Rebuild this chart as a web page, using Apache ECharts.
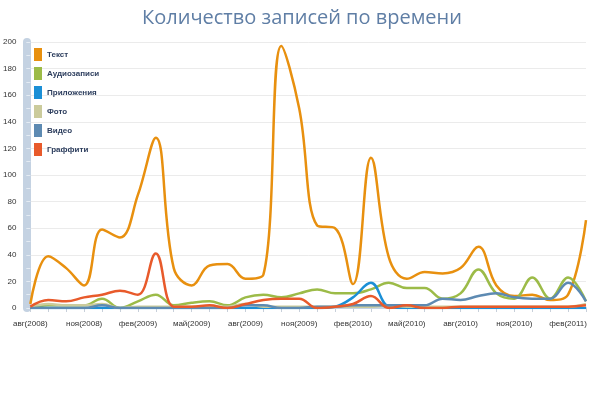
<!DOCTYPE html>
<html><head><meta charset="utf-8">
<script src="https://cdn.jsdelivr.net/npm/echarts@6/dist/echarts.min.js"></script>
<style>html,body{margin:0;padding:0;background:#fff}#c{width:604px;height:393px}</style>
</head><body><div id="c"></div>
<script>
const categories = ['авг(2008)','сен(2008)','окт(2008)','ноя(2008)','дек(2008)','янв(2009)','фев(2009)','мар(2009)','апр(2009)','май(2009)','июн(2009)','июл(2009)','авг(2009)','сен(2009)','окт(2009)','ноя(2009)','дек(2009)','янв(2010)','фев(2010)','мар(2010)','апр(2010)','май(2010)','июн(2010)','июл(2010)','авг(2010)','сен(2010)','окт(2010)','ноя(2010)','дек(2010)','янв(2011)','фев(2011)','мар(2011)'];
const textVals     = [3,39,30,17,59,53,85,128,30,17,32,33,22,25,197,150,62,60,18,113,38,22,27,26,30,46,17,9,10,6,10,66];
const audioVals    = [0,2,2,2,7,0,5,10,2,4,5,2,8,10,8,11,14,11,11,14,19,15,15,7,11,29,11,7,23,7,23,5];
const appsVals     = [0,0,0,0,0,0,0,0,0,0,0,0,0,0,0,0,0,1,8,19,1,0,0,0,0,0,0,0,0,0,0,0];
const photoVals    = [1,3,2,2,3,0,1,1,1,1,1,1,3,1,1,1,1,1,1,1,2,1,1,1,1,1,1,1,1,1,1,3];
const videoVals    = [0,0,0,0,2,0,0,0,0,0,0,0,2,2,0,0,1,1,2,2,2,2,2,7,6,9,11,8,7,7,19,5];
const graffitiVals = [1,6,5,8,10,13,10,41,1,1,2,0,3,6,7,7,0,1,3,9,0,2,0,0,1,1,1,1,1,1,1,2];
const seriesNames  = ['Текст','Аудиозаписи','Приложения','Фото','Видео','Граффити'];
const seriesColors = ['#e8900f','#9cbb48','#1b8fd6','#cbcb9c','#5d8ab2','#e85a2b'];
const yTicks = [0,20,40,60,80,100,120,140,160,180,200];

const allVals = [textVals, audioVals, appsVals, photoVals, videoVals, graffitiVals];
const chart = echarts.init(document.getElementById('c'));
chart.setOption({
  animation: false,
  title: {
    text: 'Количество записей по времени', left: 'center', top: 3,
    textStyle: {fontFamily: 'Open Sans', fontSize: 20, fontWeight: 'normal', color: '#5f7ea5'}
  },
  legend: {
    orient: 'vertical', left: 29, top: 43, itemWidth: 8, itemHeight: 13, itemGap: 6,
    icon: 'rect', data: seriesNames,
    textStyle: {fontFamily: 'Liberation Sans', fontSize: 8, fontWeight: 'bold', color: '#2d3e5e'}
  },
  grid: {left: 28, right: 18, top: 42, bottom: 85, containLabel: false},
  xAxis: {
    type: 'category', data: categories, boundaryGap: false,
    axisLine: {lineStyle: {color: '#c4d2e2', width: 2}},
    axisTick: {show: true, interval: 0, length: 4, lineStyle: {color: '#c8d0da'}},
    axisLabel: {interval: 2, fontFamily: 'Liberation Sans', fontSize: 8, color: '#333', margin: 12},
    splitLine: {show: false}
  },
  yAxis: {
    type: 'value', min: yTicks[0], max: yTicks[yTicks.length-1], interval: 20, offset: 4,
    axisLine: {show: true, lineStyle: {color: '#c4d2e2', width: 8}},
    axisTick: {show: true, inside: true, length: 4, lineStyle: {color: '#e4ebf3'}},
    minorTick: {show: true, splitNumber: 2, length: 4, lineStyle: {color: '#e4ebf3'}},
    axisLabel: {fontFamily: 'Liberation Sans', fontSize: 8, color: '#333', margin: 10},
    splitLine: {lineStyle: {color: '#ebebeb'}}
  },
  series: seriesNames.map((n, i) => ({
    name: n, type: 'line', data: allVals[i], smooth: 0.4, symbol: 'none',
    lineStyle: {color: seriesColors[i], width: 2.5}, itemStyle: {color: seriesColors[i]}
  }))
});
</script></body></html>
